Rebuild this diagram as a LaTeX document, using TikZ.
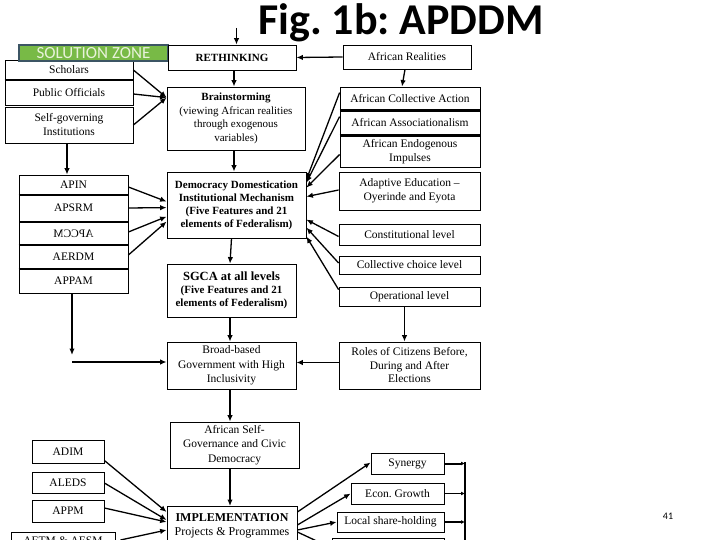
\documentclass[tikz,border=0pt]{standalone}
\usepackage{fontspec}
\usepackage{graphicx}
\setmainfont{Liberation Serif}
\newfontfamily\calib{Carlito}
\usetikzlibrary{arrows.meta,calc}
\definecolor{solgreen}{RGB}{120,186,70}
\definecolor{solborder}{RGB}{60,85,100}
\definecolor{soltext}{RGB}{232,242,218}
\frenchspacing
\begin{document}
\begin{tikzpicture}[x=1pt,y=-1pt,
  box/.style={draw, line width=0.8pt, inner sep=1pt, align=center,
    font=\fontsize{11.5}{14}\selectfont},
  sbox/.style={box, font=\fontsize{11}{13.5}\selectfont},
  bbox/.style={box, font=\bfseries\fontsize{11}{13}\selectfont},
  arr/.style={-{Latex[length=6.5pt,width=5.5pt]}, line width=1.3pt},
  sarr/.style={-{Latex[length=4pt,width=4pt]}},
  thk/.style={line width=2pt}]
\useasboundingbox (0,0) rectangle (720,540);
\clip (0,0) rectangle (720,540);
\fill[white] (0,0) rectangle (720,540);

% title
\node[font=\calib\bfseries\fontsize{44}{44}\selectfont, anchor=base west, inner sep=0pt] (title) at (258,35) {Fig. 1b: APDDM};

% left stack
\node[box, minimum width=128pt, minimum height=20pt] (scholars) at (69,70) {Scholars};
\node[box, minimum width=128pt, minimum height=25pt] (pubof) at (69,92.5) {Public Officials};
\node[box, minimum width=128pt, minimum height=36pt] (selfgov) at (69,125) {Self-governing\\Institutions};
\node[draw=solborder, line width=1.2pt, fill=solgreen, text=soltext, inner sep=0pt,
  minimum width=149pt, minimum height=16pt, font=\calib\fontsize{17}{17}\selectfont] (sol) at (93.5,53) {SOLUTION ZONE};
\draw[thk] (scholars.south west) -- (scholars.south east);

\node[box, minimum width=109pt, minimum height=20pt] (apin) at (73.5,185) {APIN};
\node[box, minimum width=109pt, minimum height=26pt] (apsrm) at (73.5,208) {APSRM};
\node[box, minimum width=109pt, minimum height=23pt] (apccm) at (73.5,233.5) {\scalebox{-1}[1]{APCCM}};
\node[box, minimum width=109pt, minimum height=24pt] (aerdm) at (73.5,257) {AERDM};
\node[box, minimum width=109pt, minimum height=24pt] (appam) at (73.5,281) {APPAM};
\draw[thk] (apin.south west) -- (apin.south east);
\draw[thk] (apccm.south west) -- (apccm.south east);
\draw[thk] (aerdm.south west) -- (aerdm.south east);

% middle column
\node[bbox, minimum width=128pt, minimum height=25pt] (rethink) at (232,57.5) {RETHINKING};
\node[sbox, minimum width=138pt, minimum height=63pt] (brain) at (236,118.5) {\textbf{Brainstorming}\\(viewing African realities\\through exogenous\\variables)};
\node[bbox, minimum width=139pt, minimum height=66pt] (ddim) at (236.5,205) {Democracy Domestication\\Institutional Mechanism\\(Five Features and 21\\elements of Federalism)};
\node[bbox, minimum width=129pt, minimum height=53pt] (sgca) at (231.5,290.5) {{\fontsize{12.5}{15}\selectfont SGCA at all levels}\\(Five Features and 21\\elements of Federalism)};
\node[box, minimum width=129pt, minimum height=47pt, font=\fontsize{11.5}{14.5}\selectfont] (broad) at (231.5,365.5) {Broad-based\\Government with High\\Inclusivity};
\node[box, minimum width=129pt, minimum height=46pt, font=\fontsize{11.5}{14.5}\selectfont] (asg) at (234.5,445) {African Self-\\Governance and Civic\\Democracy};
\node[draw, line width=0.8pt, align=center, anchor=north, minimum width=130pt, inner xsep=1pt, inner ysep=7pt,
  font=\fontsize{12}{14}\selectfont] (impl) at (232,506) {\textbf{IMPLEMENTATION}\\Projects \& Programmes};

% bottom left
\node[box, minimum width=72pt, minimum height=23pt] (adim) at (68,451.5) {ADIM};
\node[box, minimum width=72pt, minimum height=21pt] (aleds) at (68,482.5) {ALEDS};
\node[box, minimum width=72pt, minimum height=22pt] (appm) at (68,511) {APPM};
\node[draw, line width=0.8pt, anchor=north, minimum width=104pt, inner ysep=4pt,
  font=\fontsize{11.5}{14}\selectfont] (aesm) at (63,532) {AETM \& AESM};

% right column
\node[box, minimum width=128pt, minimum height=24pt] (realities) at (407,57) {African Realities};
\node[box, minimum width=140pt, minimum height=23pt] (aca) at (410,98.5) {African Collective Action};
\node[box, minimum width=140pt, minimum height=24pt] (aassoc) at (410,123) {African Associationalism};
\node[box, minimum width=140pt, minimum height=31pt] (aendo) at (410,151.5) {African Endogenous\\Impulses};
\node[box, minimum width=141pt, minimum height=38pt] (adapt) at (409.5,191) {Adaptive Education --\\Oyerinde and Eyota};
\draw[thk] (aca.south west) -- (aca.south east);
\draw[thk] (aassoc.south west) -- (aassoc.south east);
\node[box, minimum width=141pt, minimum height=21pt] (const) at (409.5,234.5) {Constitutional level};
\node[box, minimum width=141pt, minimum height=18pt] (collch) at (409.5,265) {Collective choice level};
\node[box, minimum width=141pt, minimum height=19pt] (oper) at (409.5,296.5) {Operational level};
\node[box, minimum width=141pt, minimum height=47pt, font=\fontsize{11.5}{13.5}\selectfont] (roles) at (409.5,365.5) {Roles of Citizens Before,\\During and After\\Elections};

% bottom right
\node[box, minimum width=73pt, minimum height=21pt] (synergy) at (407.5,463.5) {Synergy};
\node[box, minimum width=93pt, minimum height=21pt] (econ) at (397.5,493.5) {Econ. Growth};
\node[box, minimum width=107pt, minimum height=20pt] (local) at (390.5,522) {Local share-holding};
\node[draw, line width=0.8pt, anchor=north, minimum width=112pt, minimum height=20pt] (next) at (388,538) {};

\node[font=\calib\fontsize{10}{10}\selectfont, inner sep=0pt] (pg) at (668,516) {41};

% vertical main flow
\coordinate (rtop) at (236.5,28);
\draw[arr] (rtop) -- (rtop |- rethink.north);
\draw[arr] (realities.west) -- (rethink.east);
\draw[arr] ($(rethink.south)+(2,0)$) -- ($(brain.north)+(-2,0)$);
\draw[arr] ($(brain.south)+(-2,0)$) -- ($(ddim.north)+(-2.5,0)$);
\draw[arr] (sgca.north |- ddim.south) -- ($(sgca.north)+(-1.5,0)$);
\draw[arr] ($(sgca.south)+(-1.5,0)$) -- ($(broad.north)+(-1.5,0)$);
\draw[arr] ($(broad.south)+(-1.5,0)$) -- ($(broad.south |- asg.north)+(-1.5,0)$);
\draw[arr] ($(broad.south |- asg.south)+(-1.5,0)$) -- ($(broad.south |- impl.north)+(-1.5,0)$);

% left flows
\draw[arr] ($(selfgov.south)+(-2,0)$) -- ($(selfgov.south |- apin.north)+(-2,0)$);
\coordinate (apEnd) at (72,355);
\coordinate (brLeft) at (72,362);
\draw[arr] (apEnd |- appam.south) -- (apEnd);
\draw[arr] (brLeft) -- (broad.west |- brLeft);

\draw[arr] (scholars.east) -- ($(brain.north west)+(0,11)$);
\draw[arr] ($(pubof.east)+(0,1.5)$) -- ($(brain.north west)+(0,11)$);
\draw[arr] (selfgov.east) -- ($(brain.north west)+(0,11)$);

\draw[arr] ($(apin.east)+(0,2)$) -- ($(ddim.north west)+(0,30)$);
\draw[arr] (apsrm.east) -- ($(ddim.north west)+(0,36)$);
\draw[arr] ($(apccm.east)+(0,-1.5)$) -- ($(ddim.north west)+(0,45)$);
\draw[arr] ($(aerdm.east)+(0,-2)$) -- ($(ddim.north west)+(0,50)$);

% right flows
\draw[arr] ($(realities.south)+(-2,0)$) -- ($(aca.north)+(-8,0)$);
\draw[arr] ($(aca.north west)+(0,6)$) -- ($(ddim.north east)+(0,8)$);
\draw[arr] ($(aassoc.north west)+(0,6)$) -- ($(ddim.north east)+(0,11)$);
\draw[arr] ($(aendo.west)+(0,3)$) -- ($(ddim.north east)+(0,16)$);
\draw[arr] ($(adapt.west)+(0,-1)$) -- ($(ddim.north east)+(0,25)$);
\draw[arr] ($(const.west)+(0,2)$) -- ($(ddim.north east)+(0,48)$);
\draw[arr] ($(collch.west)+(0,-2)$) -- ($(ddim.north east)+(0,56)$);
\draw[arr] ($(oper.north west)+(0,3)$) -- ($(ddim.north east)+(0,65)$);
\draw[arr] ($(oper.south)+(-5,0)$) -- ($(roles.north)+(-5,0)$);
\draw[arr] ($(roles.west)+(0,-3)$) -- ($(broad.east)+(0,-3)$);

% bottom flows
\draw[arr] ($(adim.east)+(0,9)$) -- ($(impl.north west)+(0,6)$);
\draw[arr] ($(aleds.east)+(0,0.5)$) -- ($(impl.north west)+(0,14)$);
\draw[arr] ($(appm.east)+(0,-3)$) -- ($(impl.north west)+(0,16)$);
\draw[arr] ($(aesm.north east)+(5,8)$) -- ($(impl.north west)+(0,24)$);

\draw[arr] ($(impl.north east)+(0,6)$) -- ($(synergy.west)+(0,-1)$);
\draw[arr] ($(impl.north east)+(0,19)$) -- (econ.west);
\draw[arr] ($(impl.north east)+(0,24)$) -- (local.west);
\draw[arr] ($(impl.north east)+(0,26)$) -- ($(next.north west)+(0,10)$);

\coordinate (busTop) at (465,462);
\coordinate (busBot) at (465,545);
\draw[line width=2pt] (busTop) -- (busBot);
\draw[sarr, line width=2pt] (synergy.east) -- (synergy.east -| busTop);
\draw[sarr, line width=0.9pt] (econ.east) -- (econ.east -| busTop);
\draw[sarr, line width=2pt] (local.east) -- (local.east -| busTop);
\end{tikzpicture}
\end{document}
